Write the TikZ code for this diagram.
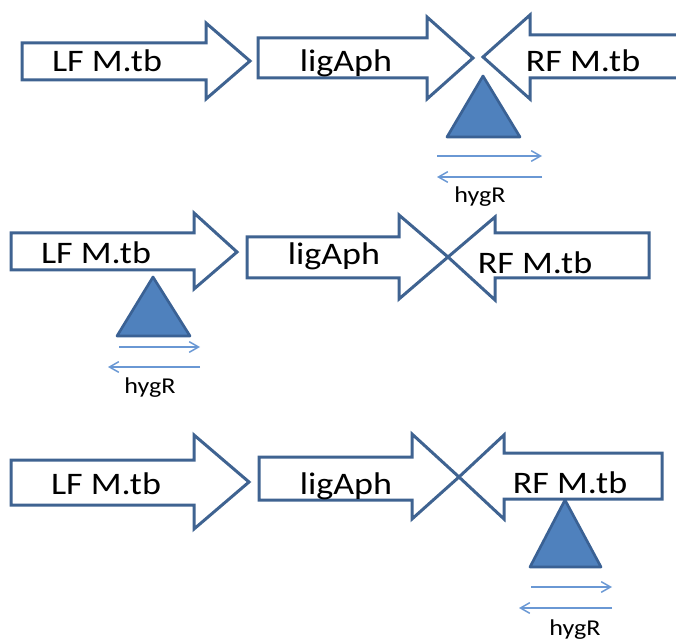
\documentclass[tikz,border=0pt]{standalone}
\usepackage{fontspec}
\setmainfont{Carlito}[FakeStretch=1.15]
\usetikzlibrary{arrows.meta}
\definecolor{edgeblue}{HTML}{3F6391}
\definecolor{insfill}{HTML}{4F81BD}
\definecolor{insedge}{HTML}{3A6194}
\definecolor{prmblue}{HTML}{6A98D4}
\tikzset{
  blk/.style={draw=edgeblue,line width=2.25pt,fill=white,line join=miter},
  ins/.style={draw=insedge,fill=insfill,line width=2pt,line join=round},
  prm/.style={draw=prmblue,line width=1.1pt,-{Straight Barb[length=7pt,width=8pt]}},
  lbl/.style={anchor=base,inner sep=0pt,font=\fontsize{23.5}{27}\selectfont},
  hyg/.style={anchor=base,inner sep=0pt,font=\fontsize{17}{20}\selectfont}
}
\begin{document}
\begin{tikzpicture}[x=0.75pt,y=-0.75pt]
\useasboundingbox (0,0) rectangle (676,642);
% first row
\draw[blk] (22,43) -- (206,43) -- (206,23) -- (250,61) -- (206,99) -- (206,80) -- (22,80) -- cycle;
\draw[blk] (258,38) -- (427,38) -- (427,17) -- (473,58) -- (427,99) -- (427,78) -- (258,78) -- cycle;
\draw[blk] (483,57) -- (530,15) -- (530,35) -- (700,35) -- (700,78) -- (530,78) -- (530,99) -- cycle;
\draw[ins] (483,76) -- (520,137) -- (447,137) -- cycle;
\node[lbl] (lf1) at (107,72) {LF M.tb};
\node[lbl] (lig1) at (346,72) {ligAph};
\node[lbl] (rf1) at (583,72) {RF M.tb};
\coordinate (fw1a) at (437,156);
\coordinate (fw1b) at (542,156);
\coordinate (rv1a) at (542,177);
\coordinate (rv1b) at (437,177);
\draw[prm] (fw1a) -- (fw1b);
\draw[prm] (rv1a) -- (rv1b);
\node[hyg] (hyg1) at (480,203) {hygR};
% second row
\draw[blk] (11,233) -- (194,233) -- (194,213) -- (237,252) -- (194,289) -- (194,270) -- (11,270) -- cycle;
\draw[blk] (247,237) -- (399,237) -- (399,215) -- (448,257) -- (399,299) -- (399,278) -- (247,278) -- cycle;
\draw[blk] (448,257) -- (495,217) -- (495,233) -- (649,233) -- (649,278) -- (495,278) -- (495,300) -- cycle;
\draw[ins] (153,277) -- (190,336) -- (117,336) -- cycle;
\node[lbl] (lf2) at (96,263) {LF M.tb};
\node[lbl] (lig2) at (334,264) {ligAph};
\node[lbl] (rf2) at (535,273) {RF M.tb};
\coordinate (fw2a) at (119,347);
\coordinate (fw2b) at (200,347);
\coordinate (rv2a) at (200,367);
\coordinate (rv2b) at (108,367);
\draw[prm] (fw2a) -- (fw2b);
\draw[prm] (rv2a) -- (rv2b);
\node[hyg] (hyg2) at (150,393) {hygR};
% third row
\draw[blk] (11,460) -- (194,460) -- (194,435) -- (249,482) -- (194,529) -- (194,505) -- (11,505) -- cycle;
\draw[blk] (259,457) -- (412,457) -- (412,434) -- (459,477) -- (412,519) -- (412,500) -- (259,500) -- cycle;
\draw[blk] (459,477) -- (504,435) -- (504,453) -- (662,453) -- (662,499) -- (504,499) -- (504,519) -- cycle;
\draw[ins] (565,500) -- (601,567) -- (530,567) -- cycle;
\node[lbl] (lf3) at (106,494) {LF M.tb};
\node[lbl] (lig3) at (346,494) {ligAph};
\node[lbl] (rf3) at (570,493) {RF M.tb};
\coordinate (fw3a) at (531,587);
\coordinate (fw3b) at (612,587);
\coordinate (rv3a) at (612,608);
\coordinate (rv3b) at (519,608);
\draw[prm] (fw3a) -- (fw3b);
\draw[prm] (rv3a) -- (rv3b);
\node[hyg] (hyg3) at (575,635) {hygR};
\end{tikzpicture}
\end{document}
